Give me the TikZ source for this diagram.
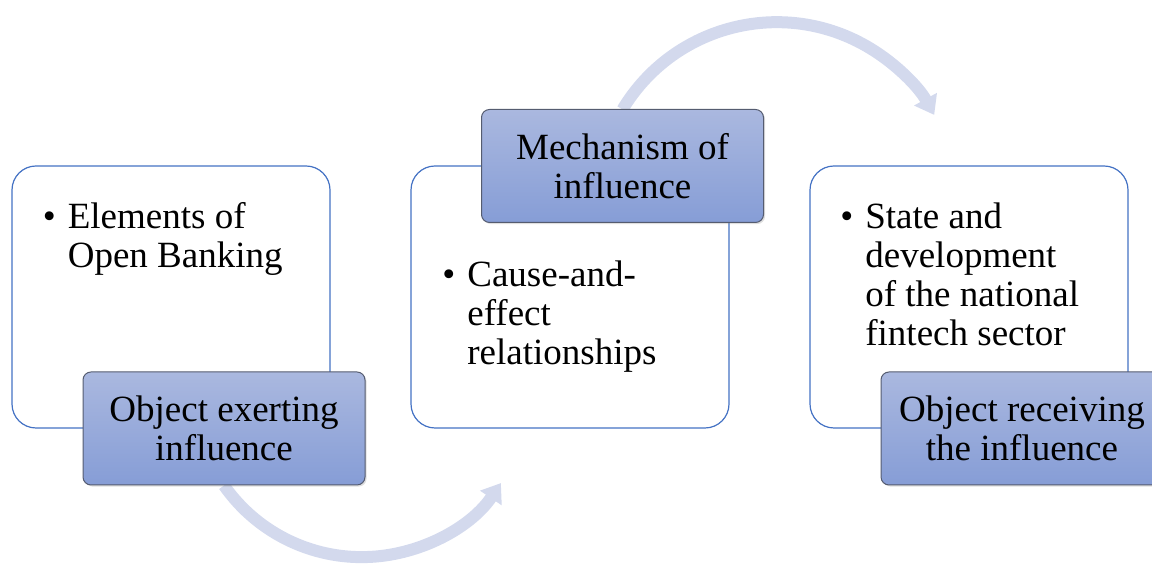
\documentclass[tikz,border=0pt]{standalone}
\usepackage{fontspec}
\setmainfont{Liberation Serif}
\usetikzlibrary{arrows.meta,shadows}

\definecolor{framecol}{RGB}{68,114,196}
\definecolor{tagtop}{RGB}{170,184,223}
\definecolor{tagbot}{RGB}{134,157,214}
\definecolor{tagline}{RGB}{85,92,112}
\definecolor{flowcol}{RGB}{211,217,237}

\newcommand{\mainfs}{\fontsize{18.5}{19.5}\selectfont}

\tikzset{
  panel/.style={draw=framecol, line width=0.6pt, rounded corners=12pt, fill=white,
    minimum width=159pt, minimum height=131pt, inner sep=0pt},
  tag/.style={draw=tagline, line width=0.5pt, rounded corners=4pt,
    top color=tagtop, bottom color=tagbot,
    drop shadow={shadow xshift=0.8pt, shadow yshift=-0.8pt, opacity=0.25},
    minimum width=141pt, minimum height=56.5pt, align=center, inner sep=0pt, font=\mainfs},
  bullets/.style={anchor=north west, align=left, inner sep=0pt, font=\mainfs},
  flow/.style={draw=flowcol, line width=6pt, -{Triangle[width=12.5pt,length=9pt]}}
}

\begin{document}
\begin{tikzpicture}[x=0.5pt,y=0.5pt]
        \useasboundingbox (0,0) rectangle (1152,565);
        \clip (0,0) rectangle (1152,565);

        % anchor points of the curved arrows
        \coordinate (startA) at (224,79.5);
        \coordinate (startB) at (622.5,455.5);

        % the curved arrows, drawn first so the tags cover their tails
        \draw[flow] (startA) arc[start angle=215, end angle=326, radius=168];
        \draw[flow] (startB) arc[start angle=149, end angle=29, radius=180];

        % the three panels
        \node[panel] (panelA) at (171,268) {};
        \node[panel] (panelB) at (570,268) {};
        \node[panel] (panelC) at (969,268) {};

        % bullet texts
        \node[bullets] (textA) at (42.5,363)
            {\textbullet\hspace{6pt}Elements of\\\hphantom{\textbullet\hspace{6pt}}Open Banking};
        \node[bullets] (textB) at (442,305)
            {\textbullet\hspace{6pt}Cause-and-\\\hphantom{\textbullet\hspace{6pt}}effect\\\hphantom{\textbullet\hspace{6pt}}relationships};
        \node[bullets] (textC) at (840,363)
            {\textbullet\hspace{6pt}State and\\\hphantom{\textbullet\hspace{6pt}}development\\\hphantom{\textbullet\hspace{6pt}}of the national\\\hphantom{\textbullet\hspace{6pt}}fintech sector};

        % the tags
        \node[tag] (tagA) at (224,136.5) {Object exerting\\influence};
        \node[tag] (tagB) at (622.5,399) {Mechanism of\\influence};
        \node[tag] (tagC) at (1022,136.5) {Object receiving\\the influence};
\end{tikzpicture}
\end{document}
